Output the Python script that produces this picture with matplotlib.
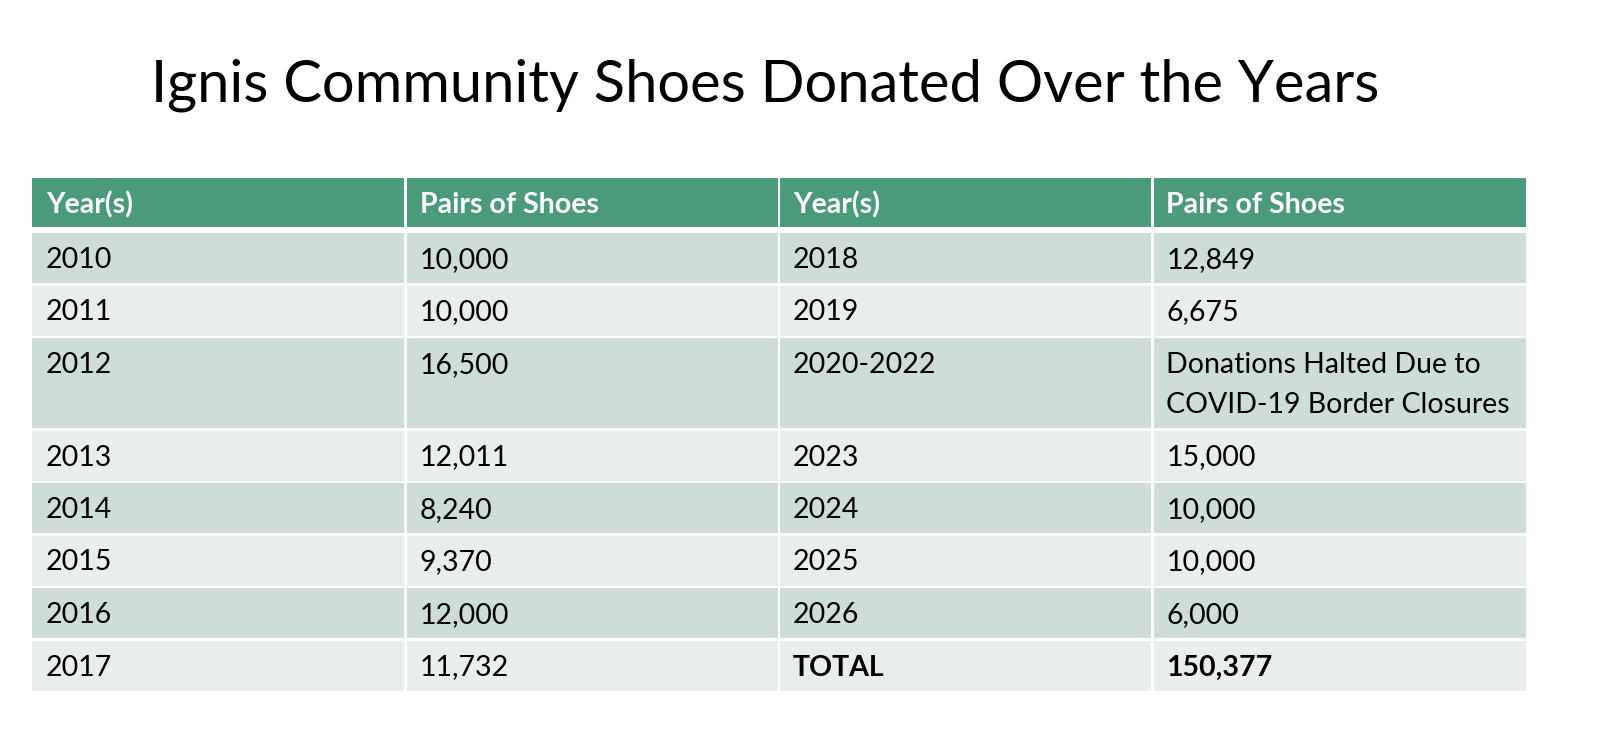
import matplotlib
matplotlib.use('Agg')
import matplotlib.pyplot as plt
from matplotlib.patches import Rectangle

# table content
title = 'Ignis Community Shoes Donated Over the Years'
headers = ['Year(s)', 'Pairs of Shoes', 'Year(s)', 'Pairs of Shoes']
years_left = ['2010', '2011', '2012', '2013', '2014', '2015', '2016', '2017']
shoes_left = [10000, 10000, 16500, 12011, 8240, 9370, 12000, 11732]
years_right = ['2018', '2019', '2020-2022', '2023', '2024', '2025', '2026', 'TOTAL']
shoes_right = [12849, 6675, None, 15000, 10000, 10000, 6000, 150377]
halted_note = ['Donations Halted Due to', 'COVID-19 Border Closures']

# colours
header_col = '#4A9A7B'
dark_col = '#CEDED7'
light_col = '#E7EEEB'

W, H = 1598, 754
fig = plt.figure(figsize=(W / 100, H / 100), dpi=100)
ax = fig.add_axes([0, 0, 1, 1])
ax.set_xlim(0, W)
ax.set_ylim(H, 0)
ax.axis('off')

font = 'Lato'
fs = 20.5

ax.text(765, 101, title, fontsize=41.7, family=font, fontweight='normal',
        ha='center', va='baseline', color='black')

left, right = 32, 1526
col_w = (right - left) / 4
gap = 2.5
pad = 14


def cell(x, y, w, h, col):
    ax.add_patch(Rectangle((x, y), w, h, facecolor=col, edgecolor='none'))


# header
top = 178
hh = 49
for i, lab in enumerate(headers):
    x = left + i * col_w
    cell(x + (gap / 2 if i else 0), top, col_w - (gap if 0 < i < 3 else gap / 2), hh, header_col)
    ax.text(x + pad, top + 35, lab, fontsize=fs, family=font, fontweight='bold',
            color='white', va='baseline')

# body rows
y = 233
line_gap = 40
for r in range(len(years_left)):
    lines_right = halted_note if shoes_right[r] is None else ['{:,}'.format(shoes_right[r])]
    n_lines = len(lines_right)
    rh = 50 + (n_lines - 1) * line_gap
    col = dark_col if r % 2 == 0 else light_col
    bold = years_right[r] == 'TOTAL'
    vals = [[years_left[r]], ['{:,}'.format(shoes_left[r])], [years_right[r]], lines_right]
    for i, txt in enumerate(vals):
        x = left + i * col_w
        cell(x + (gap / 2 if i else 0), y, col_w - (gap if 0 < i < 3 else gap / 2), rh, col)
        for k, line in enumerate(txt):
            ax.text(x + pad, y + 35 + k * line_gap, line, fontsize=fs, family=font,
                    fontweight='bold' if (bold and i >= 2) else 'normal',
                    color='black', va='baseline')
    y += rh + gap

fig.savefig('out.png', dpi=100, facecolor='white')
